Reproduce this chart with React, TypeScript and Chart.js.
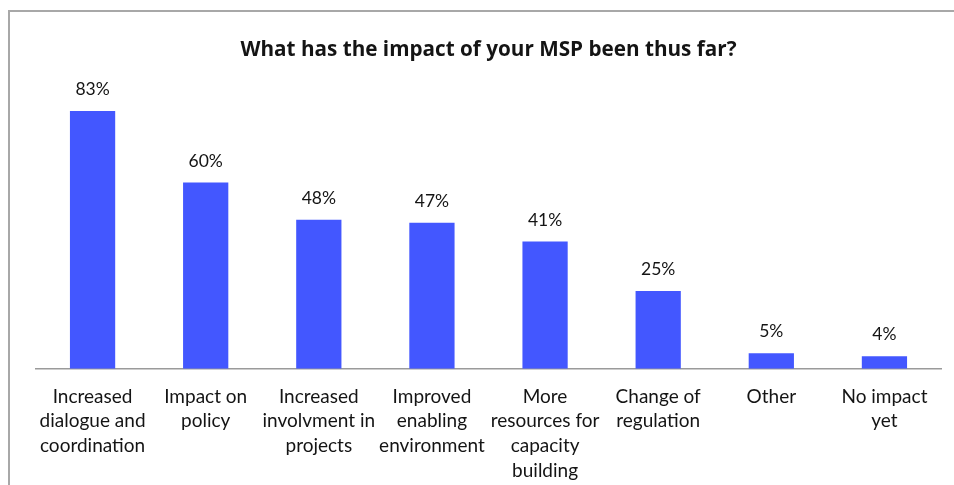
import React, { useEffect, useRef } from 'react';
import { Chart, registerables } from 'chart.js';

Chart.register(...registerables);

const chartTitle = 'What has the impact of your MSP been thus far?';
const categories: string[][] = [
  ['Increased', 'dialogue and', 'coordination'],
  ['Impact on', 'policy'],
  ['Increased', 'involvment in', 'projects'],
  ['Improved', 'enabling', 'environment'],
  ['More', 'resources for', 'capacity', 'building'],
  ['Change of', 'regulation'],
  ['Other'],
  ['No impact', 'yet'],
];
const values: number[] = [83, 60, 48, 47, 41, 25, 5, 4];
const yMax = 90;

const FONT = 'Lato, "Open Sans", sans-serif';
const TITLE_FONT = '"Open Sans", Lato, sans-serif';
const TEXT = '#141414';

const valueLabels = {
  id: 'valueLabels',
  afterDatasetsDraw(chart: any) {
    const ctx = chart.ctx;
    const meta = chart.getDatasetMeta(0);
    ctx.save();
    ctx.font = `17.5px ${FONT}`;
    ctx.fillStyle = TEXT;
    ctx.textAlign = 'center';
    ctx.textBaseline = 'middle';
    meta.data.forEach((el: any, i: number) => {
      ctx.fillText(`${values[i]}%`, el.x, el.y - 21.5);
    });
    ctx.restore();
  },
};

export default function App() {
  const ref = useRef<HTMLCanvasElement>(null);
  useEffect(() => {
    if (!ref.current) return;
    const chart = new Chart(ref.current, {
      type: 'bar',
      data: {
        labels: categories,
        datasets: [
          {
            data: values,
            backgroundColor: '#4357ff',
            borderWidth: 0,
            barPercentage: 0.4,
            categoryPercentage: 1,
          },
        ],
      },
      options: {
        responsive: false,
        animation: false,
        devicePixelRatio: 1,
        layout: { padding: { left: 36, right: 13, top: 0, bottom: -13.5 } },
        plugins: {
          legend: { display: false },
          tooltip: { enabled: false },
          title: {
            display: true,
            text: chartTitle,
            color: TEXT,
            font: { family: TITLE_FONT, size: 20.7, weight: 'bold', lineHeight: 1.2 },
            padding: { top: 37.5, bottom: 27 },
          },
        },
        scales: {
          x: {
            grid: { display: false, drawTicks: false },
            border: { display: true, color: '#9a9a9a', width: 1.5 },
            ticks: {
              color: TEXT,
              font: { family: FONT, size: 19, lineHeight: '24.7px' as any },
              padding: 15.5,
              maxRotation: 0,
              minRotation: 0,
              autoSkip: false,
            },
          },
          y: {
            display: false,
            min: 0,
            max: yMax,
          },
        },
      },
      plugins: [valueLabels],
    });
    return () => chart.destroy();
  }, []);

  return (
    <div
      style={{
        position: 'fixed',
        left: 0,
        top: 0,
        width: 954,
        height: 485,
        overflow: 'hidden',
        background: '#fff',
      }}
    >
      <canvas ref={ref} width={954} height={485} style={{ position: 'absolute', left: 0, top: 0, width: 954, height: 485 }} />
      <div
        style={{
          position: 'absolute',
          left: 8,
          top: 10,
          width: 1200,
          height: 1200,
          border: '2px solid #a8a8a8',
          boxSizing: 'border-box',
          pointerEvents: 'none',
        }}
      />
    </div>
  );
}
